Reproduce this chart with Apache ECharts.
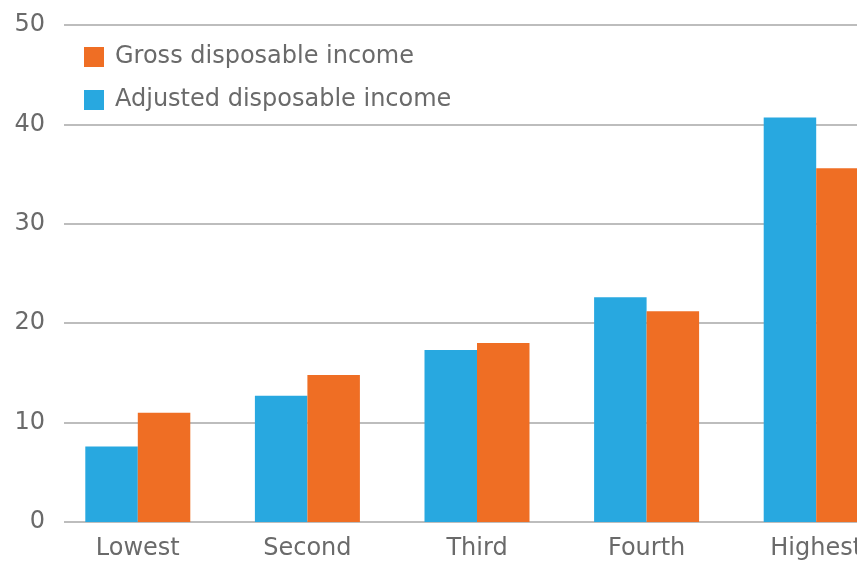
<!DOCTYPE html>
<html><head><meta charset="utf-8">
<script src="https://cdn.jsdelivr.net/npm/echarts@6/dist/echarts.min.js"></script>
<style>html,body{margin:0;padding:0;background:#fff;overflow:hidden}#c{width:905px;height:563px}</style>
</head><body><div id="c"></div>
<script>
const categories = ["Lowest", "Second", "Third", "Fourth", "Highest"];
const adjusted = [7.6, 12.7, 17.3, 22.6, 40.7];
const gross = [11.0, 14.8, 18.0, 21.2, 35.6];
const yTicks = [0, 10, 20, 30, 40, 50];

const font = "'DejaVu Sans', sans-serif";
const chart = echarts.init(document.getElementById('c'), null, {renderer: 'canvas'});
chart.setOption({
  animation: false,
  backgroundColor: '#fff',
  textStyle: {fontFamily: font},
  legend: {
    orient: 'vertical', left: 79, top: 40, itemGap: 19,
    itemWidth: 20, itemHeight: 20, icon: 'rect',
    data: ['Gross disposable income', 'Adjusted disposable income'],
    textStyle: {fontSize: 24, color: '#6a6a6a', fontFamily: font, padding: [0,0,0,6]}
  },
  grid: [
    {left: 64, width: 841, top: 25, bottom: 41, containLabel: false},
    {left: 53, width: 848, top: 25, bottom: 41, containLabel: false}
  ],
  xAxis: [
    {gridIndex: 0, type: 'value', min: 0, max: 1, show: false},
    {gridIndex: 1, type: 'category', data: categories,
     axisLine: {show: false}, axisTick: {show: false},
     axisLabel: {fontSize: 24, color: '#6a6a6a', margin: 15, fontFamily: font}}
  ],
  yAxis: [
    {gridIndex: 0, type: 'value', min: yTicks[0], max: yTicks[yTicks.length-1], interval: 10,
     axisLine: {show: false}, axisTick: {show: false},
     axisLabel: {fontSize: 24, color: '#6a6a6a', margin: 19, fontFamily: font},
     splitLine: {lineStyle: {color: '#bdbdbd', width: 2}}},
    {gridIndex: 1, type: 'value', min: 0, max: 50, show: false, splitLine: {show: false}}
  ],
  series: [
    {name: 'Adjusted disposable income', type: 'bar', xAxisIndex: 1, yAxisIndex: 1,
     data: adjusted, barWidth: 52.5, barGap: '0%', itemStyle: {color: '#28a8e0'}},
    {name: 'Gross disposable income', type: 'bar', xAxisIndex: 1, yAxisIndex: 1,
     data: gross, barWidth: 52.5, barGap: '0%', itemStyle: {color: '#ef6e24'}}
  ]
});
</script></body></html>
